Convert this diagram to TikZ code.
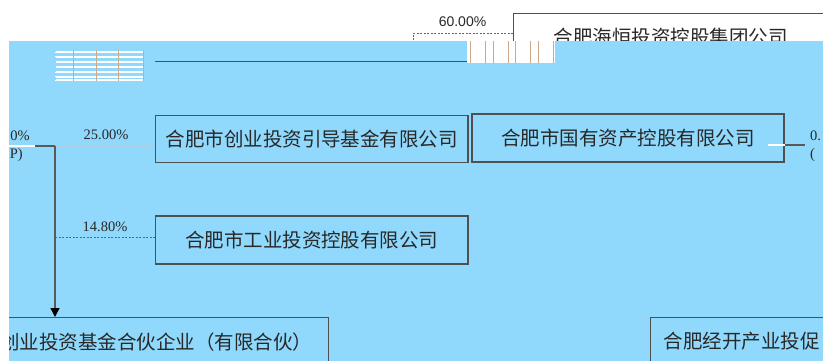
\documentclass[tikz,border=0pt]{standalone}
\usepackage{fontspec}
\setmainfont{Liberation Serif}
\newfontfamily\cjk{Noto Sans CJK SC}
\newfontfamily\lsans{Liberation Sans}
\usetikzlibrary{arrows.meta,calc}
\definecolor{skyb}{RGB}{144,217,252}
\definecolor{boxline}{RGB}{80,80,80}
\definecolor{txt}{RGB}{40,40,40}
\definecolor{tan}{RGB}{205,170,140}
\tikzset{
  cobox/.style={draw=boxline, line width=1.2pt, inner sep=0pt, font=\cjk\fontsize{19.5}{22}\selectfont, text=txt},
  pct/.style={font=\fontsize{14.5}{16}\selectfont, text=txt, inner sep=0pt},
  dashlight/.style={draw=gray!45, line width=1pt, dash pattern=on 2.5pt off 1.5pt},
  dashdark/.style={draw=gray!80!black, line width=0.8pt, dash pattern=on 2pt off 1.5pt},
  solidline/.style={draw=gray!70!black, line width=1.3pt},
}
\begin{document}
\begin{tikzpicture}[x=1pt,y=-1pt]
\useasboundingbox (0,0) rectangle (823,361);
\fill[white] (0,0) rectangle (823,361);
% top company (mostly above the blue area)
\node[cobox, fill=white, minimum width=314pt, minimum height=48.3pt, anchor=north west] (haiheng) at (513,12.7) {合肥海恒投资控股集团公司};
\coordinate (c60) at (413,44);
\draw[dashdark] ([yshift=-20.6pt]haiheng.north west) -| (c60);
\node[pct, font=\lsans\fontsize{14}{16}\selectfont] (p60) at (462.5,22) {60.00\%};
% blue region
\fill[skyb] (9,41.5) rectangle (823,361);
\fill[white] (467,41.5) rectangle (555,63);
\foreach \xx in {470,485,493,508,515,530,538,553}
  \draw[tan, line width=0.8pt] (\xx,41.5) -- (\xx,63);
\foreach \yy in {51.7,56.7,61.7,66.7,71.7,76.7,80}
  \draw[white, line width=2pt] (55,\yy) -- (143,\yy);
\foreach \xx in {73,96,118,143}
  \draw[tan, line width=0.8pt] (\xx,50.5) -- (\xx,81);
\draw[boxline, line width=1.2pt] (155,61.7) -- (467,61.7);
\begin{scope}
\clip (9,41.5) rectangle (823,361);
\node[cobox, minimum width=312.5pt, minimum height=47.5pt] (chuangye) at (311.75,139) {合肥市创业投资引导基金有限公司};
\node[cobox, minimum width=312pt, minimum height=48pt] (guoyou) at (628,138) {合肥市国有资产控股有限公司};
\node[cobox, minimum width=312.5pt, minimum height=48pt] (gongye) at (311.75,240) {合肥市工业投资控股有限公司};
\node[cobox, anchor=north east, minimum height=48pt, inner xsep=16pt] (fund) at (329,317) {创业投资基金合伙企业（有限合伙）};
\node[cobox, anchor=north west, minimum height=48pt, text width=230pt, align=left, inner xsep=13pt] (jingkai) at (650,317) {合肥经开产业投促};
% bus
\coordinate (bustop) at (55,41.5);
\coordinate (bus) at (55,146);
\coordinate (b2) at (55,237.3);
\coordinate (lft) at (9,146);
\coordinate (lmid) at (35,146);
\draw[dashlight] (bustop) -- (bus);
\draw[dashlight] (bus) -- (bus -| chuangye.west);
\draw[dashdark] (b2) -- (b2 -| gongye.west);
\draw[white, line width=1.3pt] (lft) -- (lmid);
\draw[solidline] (lmid) -- (bus);
\draw[solidline, -{Triangle[width=9pt,length=9pt,color=black]}] (bus) -- (bus |- fund.north);
% right side
\coordinate (r) at (805,145);
\coordinate (rin) at (768,145);
\draw[white, line width=1.3pt] (rin) -- (rin -| guoyou.east);
\draw[solidline] (r -| guoyou.east) -- (r);
% labels
\node[pct] (p25) at (106,135) {25.00\%};
\node[pct] (p148) at (105,227) {14.80\%};
\node[pct, anchor=east] (pl1) at (30,136) {0\%};
\node[pct, anchor=east] (pl2) at (23,155) {P)};
\node[pct, anchor=west] (pr1) at (810,136) {0.};
\node[pct, anchor=west] (pr2) at (810,155) {(};
\end{scope}
\end{tikzpicture}
\end{document}
